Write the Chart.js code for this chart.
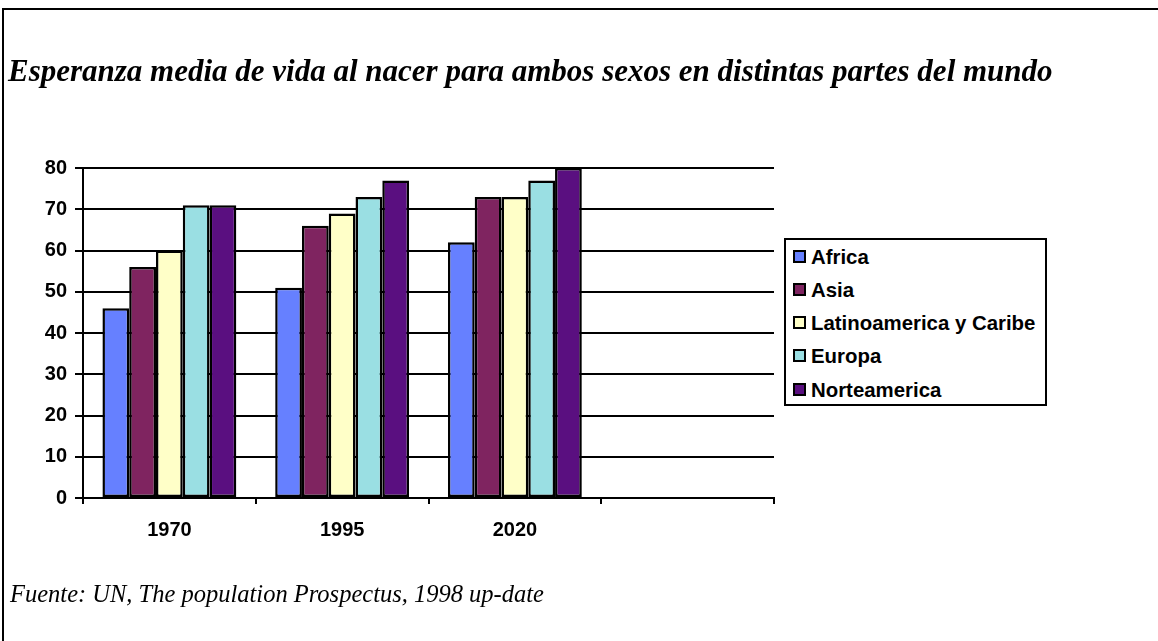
<!DOCTYPE html>
<html>
<head>
<meta charset="utf-8">
<script src="https://cdn.jsdelivr.net/npm/chart.js@4/dist/chart.umd.min.js"></script>
<style>
  html, body { margin: 0; padding: 0; background: #fff; }
  #wrap { position: relative; width: 1158px; height: 641px; overflow: hidden; }
  #frame { position: absolute; left: 2px; top: 8px; width: 1200px; height: 700px;
           border-left: 2px solid #000; border-top: 2px solid #000; }
  #title { position: absolute; left: 8px; top: 53px; height: 36px; line-height: 36px; white-space: nowrap;
           font-family: "Liberation Serif", "Times New Roman", serif; font-weight: bold; font-style: italic;
           font-size: 31px; color: #000; }
  #source { position: absolute; left: 10px; top: 580px; height: 28px; line-height: 28px; white-space: nowrap;
           font-family: "Liberation Serif", "Times New Roman", serif; font-style: italic;
           font-size: 24.5px; color: #000; }
  #legend { position: absolute; left: 784px; top: 238px; width: 263px; height: 168px;
            border: 2px solid #000; box-sizing: border-box; background: #fff;
            font-family: "Liberation Sans", Arial, sans-serif; font-weight: bold; font-size: 20.4px; }
  .item { position: absolute; left: 7px; height: 24px; line-height: 24px; white-space: nowrap; }
  .sw { display: inline-block; width: 9px; height: 9px; border: 2px solid #000; margin-right: 5px; vertical-align: 1px; }
  canvas { position: absolute; left: 0; top: 0; }
</style>
</head>
<body>
<div id="wrap">
  <div id="frame"></div>
  <canvas id="c" width="1158" height="641"></canvas>
  <div id="title">Esperanza media de vida al nacer para ambos sexos en distintas partes del mundo</div>
  <div id="source">Fuente: UN, The population Prospectus, 1998 up-date</div>
  <div id="legend"></div>
</div>
<script>
const categories = ['1970', '1995', '2020', ''];
const seriesNames = ['Africa', 'Asia', 'Latinoamerica y Caribe', 'Europa', 'Norteamerica'];
const africa = [46, 51, 62, null];
const asia = [56, 66, 73, null];
const latinoamerica = [60, 69, 73, null];
const europa = [71, 73, 77, null];
const norteamerica = [71, 77, 80, null];
const yTicks = [0, 10, 20, 30, 40, 50, 60, 70, 80];
const colors = ['#6680FF', '#7F2460', '#FFFFC8', '#9ADFE3', '#5A0F80'];

const seriesValues = [africa, asia, latinoamerica, europa, norteamerica];
const datasets = seriesNames.map((name, i) => ({
  label: name,
  data: seriesValues[i],
  backgroundColor: colors[i],
  borderColor: '#000',
  borderWidth: 2.5,
  borderSkipped: false,
  barPercentage: 1.0,
  categoryPercentage: 0.775
}));

// HTML legend built from the series
const leg = document.getElementById('legend');
seriesNames.forEach((name, i) => {
  const d = document.createElement('div');
  d.className = 'item';
  d.style.top = (4.5 + i * 33.3) + 'px';
  d.innerHTML = '<span class="sw" style="background:' + colors[i] + '"></span>' + name;
  leg.appendChild(d);
});

new Chart(document.getElementById('c'), {
  type: 'bar',
  data: { labels: categories, datasets },
  options: {
    responsive: false,
    animation: false,
    layout: { padding: { left: 0, right: 384, top: 168, bottom: 93 } },
    plugins: { legend: { display: false }, title: { display: false }, tooltip: { enabled: false } },
    scales: {
      x: {
        offset: true,
        grid: { offset: true, drawOnChartArea: false, drawTicks: true, tickLength: 6, color: '#000', lineWidth: 2 },
        border: { display: true, color: '#000', width: 2 },
        ticks: { color: '#000', font: { family: 'Liberation Sans, Arial, sans-serif', weight: 'bold', size: 20 }, padding: 14 },
        afterFit: (s) => { s.height = 50; }
      },
      y: {
        min: 0, max: 80,
        afterBuildTicks: (s) => { s.ticks = yTicks.map(v => ({ value: v })); },
        grid: { color: '#000', lineWidth: 2, tickLength: 8 },
        border: { display: true, color: '#000', width: 2 },
        ticks: { color: '#000', font: { family: 'Liberation Sans, Arial, sans-serif', weight: 'bold', size: 20 }, padding: 8 },
        afterFit: (s) => { s.width = 83; }
      }
    }
  }
});
</script>
</body>
</html>
